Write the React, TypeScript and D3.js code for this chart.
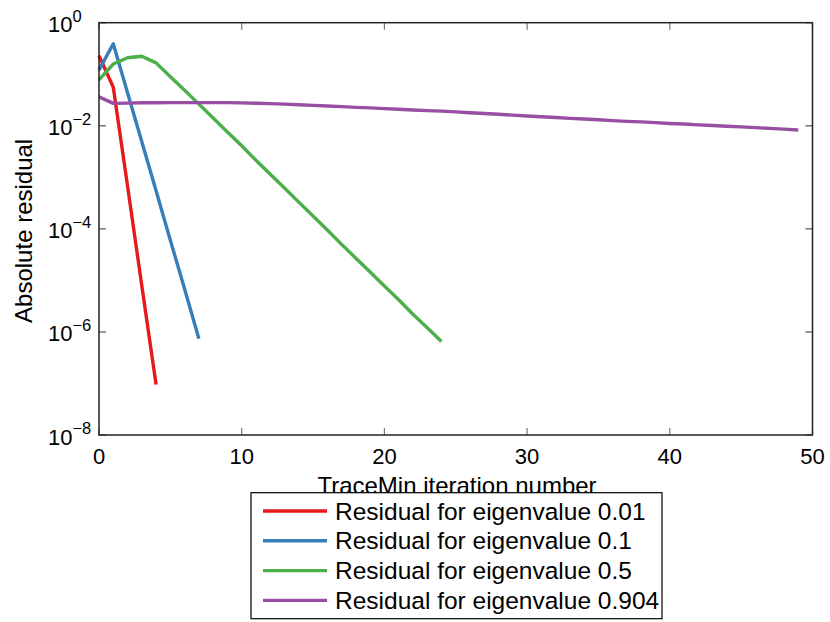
import React from "react";
import * as d3 from "d3";

// Residual per TraceMin iteration (index = iteration number)
const residual001 = [0.23, 0.056, 6.8e-4, 7.9e-6, 9.5e-8];
const residual01 = [0.12, 0.39, 0.0437, 0.0049, 5.5e-4, 6.0e-5, 6.8e-6, 7.4e-7];
const residual05 = [
  0.0776, 0.158, 0.209, 0.224, 0.166, 0.0891, 0.049, 0.0263, 0.0141, 0.0076,
  0.0041, 0.00214, 0.00115, 6.2e-4, 3.3e-4, 1.78e-4, 9.5e-5, 5.0e-5, 2.7e-5,
  1.45e-5, 7.8e-6, 4.2e-6, 2.2e-6, 1.2e-6, 6.5e-7,
];
const residual0904 = [
  0.0363, 0.0272, 0.0275, 0.0279, 0.028, 0.0281, 0.0281, 0.0281, 0.0281, 0.0281,
  0.0278, 0.0274, 0.0269, 0.0263, 0.0256, 0.0249, 0.0242, 0.0235, 0.0228, 0.0222,
  0.0215, 0.0209, 0.0203, 0.0197, 0.0192, 0.0186, 0.0179, 0.0173, 0.0167, 0.0161,
  0.0155, 0.015, 0.0145, 0.0139, 0.0135, 0.0131, 0.0126, 0.0122, 0.0119, 0.0115,
  0.0111, 0.0108, 0.0104, 0.0101, 0.0098, 0.0095, 0.0092, 0.0089, 0.0086, 0.0083,
];

const seriesData = [residual001, residual01, residual05, residual0904];
const seriesLabels = [
  "Residual for eigenvalue 0.01",
  "Residual for eigenvalue 0.1",
  "Residual for eigenvalue 0.5",
  "Residual for eigenvalue 0.904",
];
const seriesColors = ["#e41a1c", "#377eb8", "#4daf4a", "#984ea3"];

const xTicks = [0, 10, 20, 30, 40, 50];
const yTickExponents = [0, -2, -4, -6, -8];

const FONT = "'Liberation Sans', Arial, Helvetica, sans-serif";

export default function App() {
  const left = 99;
  const right = 812.5;
  const top = 22.7;
  const bottom = 435;
  const x = d3.scaleLinear().domain([0, 50]).range([left, right]);
  const y = d3.scaleLog().domain([1e-8, 1]).range([bottom, top]);
  const line = d3
    .line<number>()
    .x((_, i) => x(i))
    .y((d) => y(d));
  const tickLen = 7;
  const tickColor = "#777";

  const legX = 251;
  const legY = 492.7;
  const legW = 411;
  const legH = 126;
  const rowY = (i: number) => 511 + i * 29.8;

  return (
    <svg
      width={830}
      height={622}
      style={{ position: "absolute", left: 0, top: 0, background: "#fff" }}
      fontFamily={FONT}
    >
      <rect x={0} y={0} width={830} height={622} fill="#fff" />
      {/* ticks */}
      {xTicks.map((t) => (
        <g key={"xt" + t}>
          <line x1={x(t)} x2={x(t)} y1={bottom} y2={bottom - tickLen} stroke={tickColor} strokeWidth={1.2} />
          <line x1={x(t)} x2={x(t)} y1={top} y2={top + tickLen} stroke={tickColor} strokeWidth={1.2} />
          <text x={x(t)} y={463.5} fontSize={22} textAnchor="middle" fill="#000">
            {t}
          </text>
        </g>
      ))}
      {yTickExponents.map((e) => {
        const yy = y(Math.pow(10, e));
        return (
          <g key={"yt" + e}>
            <line x1={left} x2={left + tickLen} y1={yy} y2={yy} stroke={tickColor} strokeWidth={1.5} />
            <line x1={right} x2={right - tickLen} y1={yy} y2={yy} stroke={tickColor} strokeWidth={1.5} />
            <text x={48} y={yy + 9.5} fontSize={22} fill="#000">
              10
              <tspan dy={-10.5} fontSize={16.5}>
                {e === 0 ? "0" : "\u2212" + String(-e)}
              </tspan>
            </text>
          </g>
        );
      })}
      {/* series */}
      {seriesData.map((d, i) => (
        <path
          key={"s" + i}
          d={line(d) || ""}
          fill="none"
          stroke={seriesColors[i]}
          strokeWidth={3.4}
          strokeLinejoin="round"
        />
      ))}
      {/* axes box */}
      <rect x={left} y={top} width={right - left} height={bottom - top} fill="none" stroke="#222" strokeWidth={1.5} />
      {/* axis labels */}
      <text
        transform={`translate(32, ${(top + bottom) / 2 + 2}) rotate(-90)`}
        fontSize={24}
        textAnchor="middle"
        fill="#000"
      >
        Absolute residual
      </text>
      <text x={457} y={494} fontSize={24} textAnchor="middle" fill="#000">
        TraceMin iteration number
      </text>
      {/* legend */}
      <rect x={legX} y={legY} width={legW} height={legH} fill="#fff" stroke="#000" strokeWidth={1.2} />
      {seriesLabels.map((lab, i) => (
        <g key={"lg" + i}>
          <line x1={263} x2={327} y1={rowY(i)} y2={rowY(i)} stroke={seriesColors[i]} strokeWidth={3.4} />
          <text x={335} y={rowY(i) + 8.5} fontSize={24.5} fill="#000">
            {lab}
          </text>
        </g>
      ))}
    </svg>
  );
}
